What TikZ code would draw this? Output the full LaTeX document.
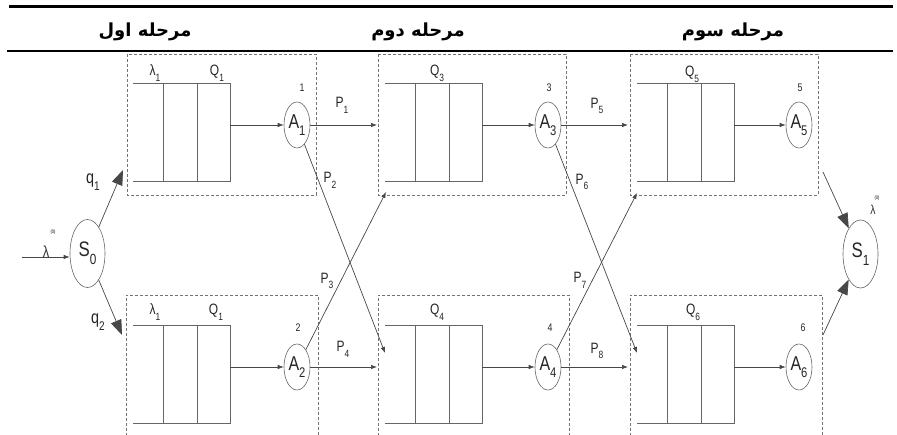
\documentclass[tikz,border=0pt]{standalone}
\usepackage{fontspec}
\setmainfont{Liberation Sans}
\newfontfamily\lab[FakeStretch=0.8]{Liberation Sans}
\newfontfamily\fa[Script=Arabic]{DejaVu Sans}
\TeXXeTstate=1
\usetikzlibrary{arrows.meta,shapes.geometric}
\newcommand\lsub[1]{\raisebox{-0.38em}{\scalebox{0.7}{#1}}}
\begin{document}
\begin{tikzpicture}[x=1pt,y=-1pt,
  conn/.style={draw=black!72, line width=0.7pt, -{Latex[length=6pt,width=4.5pt]}},
  bigarr/.style={draw=black!72, line width=0.7pt, -{Triangle[length=15pt,width=11pt]}},
  qline/.style={draw=black!60, line width=0.7pt},
  qbox/.style={minimum width=97pt, minimum height=98pt, inner sep=0pt, outer sep=0pt, draw=none},
  stagebox/.style={draw=black!55, line width=0.6pt, dash pattern=on 3pt off 2pt},
  server/.style={ellipse, draw=black!60, line width=0.6pt, minimum width=26pt, minimum height=46pt, inner sep=0pt, font=\lab\fontsize{20}{20}\selectfont, text=black!85},
  src/.style={ellipse, draw=black!60, line width=0.6pt, minimum width=35pt, minimum height=68pt, inner sep=0pt, font=\lab\fontsize{21}{21}\selectfont, text=black!85},
  lbl/.style={font=\lab\fontsize{15}{15}\selectfont, text=black!85, inner sep=0pt},
  qlbl/.style={font=\lab\fontsize{18}{18}\selectfont, text=black!85, inner sep=0pt},
  num/.style={font=\lab\fontsize{11}{11}\selectfont, text=black!85, inner sep=0pt},
  head/.style={font=\fa\bfseries\fontsize{18}{18}\selectfont, inner sep=0pt}
]
\fill[white] (0,0) rectangle (897,435);
\useasboundingbox (0,0) rectangle (897,435);

% header rules and titles
\draw[line width=3pt] (9,7) -- (893,7);
\draw[line width=2pt] (7,51) -- (893,51);
\node[head] (h1) at (145,32) {\beginR مرحله اول\endR};
\node[head] (h2) at (418,32) {\beginR مرحله دوم\endR};
\node[head] (h3) at (733,32) {\beginR مرحله سوم\endR};

% stage boxes
\draw[stagebox] (127,54) rectangle (316,195);
\draw[stagebox] (378,54) rectangle (566,195);
\draw[stagebox] (630,54) rectangle (818,195);
\draw[stagebox] (126,436) -- (126,295) -- (318,295) -- (318,436);
\draw[stagebox] (378,436) -- (378,295) -- (569,295) -- (569,436);
\draw[stagebox] (630,436) -- (630,295) -- (822,295) -- (822,436);

% queues
\foreach \n/\x/\yc in {1/133/132.5, 2/133/374.5, 3/385/132.5, 4/385/374.5, 5/637/132.5, 6/637/374.5} {
  \node[qbox] (q\n) at (\x+48.5,\yc) {};
  \draw[qline] (q\n.north west) -- (q\n.north east) -- (q\n.south east) -- (q\n.south west);
  \draw[qline] ([xshift=30pt]q\n.north west) -- ([xshift=30pt]q\n.south west);
  \draw[qline] ([xshift=64pt]q\n.north west) -- ([xshift=64pt]q\n.south west);
}

% queue labels
\node[lbl] (l1) at (155,73) {λ\lsub{1}};
\node[lbl] (l2) at (155,312) {λ\lsub{1}};
\node[lbl] (ql1) at (217,73) {Q\lsub{1}};
\node[lbl] (ql2) at (216,312) {Q\lsub{1}};
\node[lbl] (ql3) at (437,73) {Q\lsub{3}};
\node[lbl] (ql4) at (437,312) {Q\lsub{4}};
\node[lbl] (ql5) at (692,74) {Q\lsub{5}};
\node[lbl] (ql6) at (693,312) {Q\lsub{6}};

% servers
\node[server] (A1) at (297,125) {A\lsub{1}};
\node[server] (A2) at (297,367) {A\lsub{2}};
\node[server] (A3) at (548,125) {A\lsub{3}};
\node[server] (A4) at (548,367) {A\lsub{4}};
\node[server] (A5) at (799,125) {A\lsub{5}};
\node[server] (A6) at (799,367) {A\lsub{6}};
\node[num] (n1) at (302,88) {1};
\node[num] (n2) at (298,328) {2};
\node[num] (n3) at (549,88) {3};
\node[num] (n4) at (550,328) {4};
\node[num] (n5) at (800,88) {5};
\node[num] (n6) at (803,328) {6};

\foreach \n in {1,...,6} { \draw[conn] (q\n.east |- A\n) -- (A\n); }

% sources / sinks
\node[src] (S0) at (87.5,253.5) {S\lsub{0}};
\node[src] (S1) at (860.5,254) {S\lsub{1}};

% routing coordinates
\coordinate (e1) at (377,126);
\coordinate (e2) at (385,353);
\coordinate (e3) at (386,192);
\coordinate (e4) at (377,367);
\coordinate (e5) at (628,126);
\coordinate (e6) at (637,353);
\coordinate (e7) at (637,193);
\coordinate (e8) at (628,367);
\coordinate (in0) at (22,257);
\coordinate (t1) at (123,170);
\coordinate (t2) at (122,335);
\coordinate (o5) at (823,172);
\coordinate (o6) at (823,335);

\draw[conn] (A1.east) -- (A1.east -| e1);
\draw[conn] (A1) -- (e2);
\draw[conn] (A2) -- (e3);
\draw[conn] (A2.east) -- (A2.east -| e4);
\draw[conn] (A3.east) -- (A3.east -| e5);
\draw[conn] (A3) -- (e6);
\draw[conn] (A4) -- (e7);
\draw[conn] (A4.east) -- (A4.east -| e8);

\node[lbl] (p1) at (342,105) {P\lsub{1}};
\node[lbl] (p2) at (330,180) {P\lsub{2}};
\node[lbl] (p3) at (327,281) {P\lsub{3}};
\node[lbl] (p4) at (343,349) {P\lsub{4}};
\node[lbl] (p5) at (597,106) {P\lsub{5}};
\node[lbl] (p6) at (582,182) {P\lsub{6}};
\node[lbl] (p7) at (580,280) {P\lsub{7}};
\node[lbl] (p8) at (597,351) {P\lsub{8}};

\draw[conn] (in0) -- (in0 -| S0.west);
\draw[bigarr] (S0) -- (t1);
\draw[bigarr] (S0) -- (t2);
\draw[bigarr] (o5) -- (S1);
\draw[bigarr] (o6) -- (S1);

\node[qlbl] (q1l) at (93,182) {q\lsub{1}};
\node[qlbl] (q2l) at (98,322) {q\lsub{2}};

\node[font=\lab\fontsize{16}{16}\selectfont, inner sep=0pt, anchor=south, text=black!80] (lam0) at (46,258) {λ};
\node[font=\lab\fontsize{5}{5}\selectfont, inner sep=0pt] (sup0) at (53,232) {(0)};
\node[font=\lab\fontsize{13}{13}\selectfont, inner sep=0pt, anchor=south, text=black!80] (lam1) at (873,215) {λ};
\node[font=\lab\fontsize{5}{5}\selectfont, inner sep=0pt] (sup1) at (877,198) {(0)};
\end{tikzpicture}
\end{document}
